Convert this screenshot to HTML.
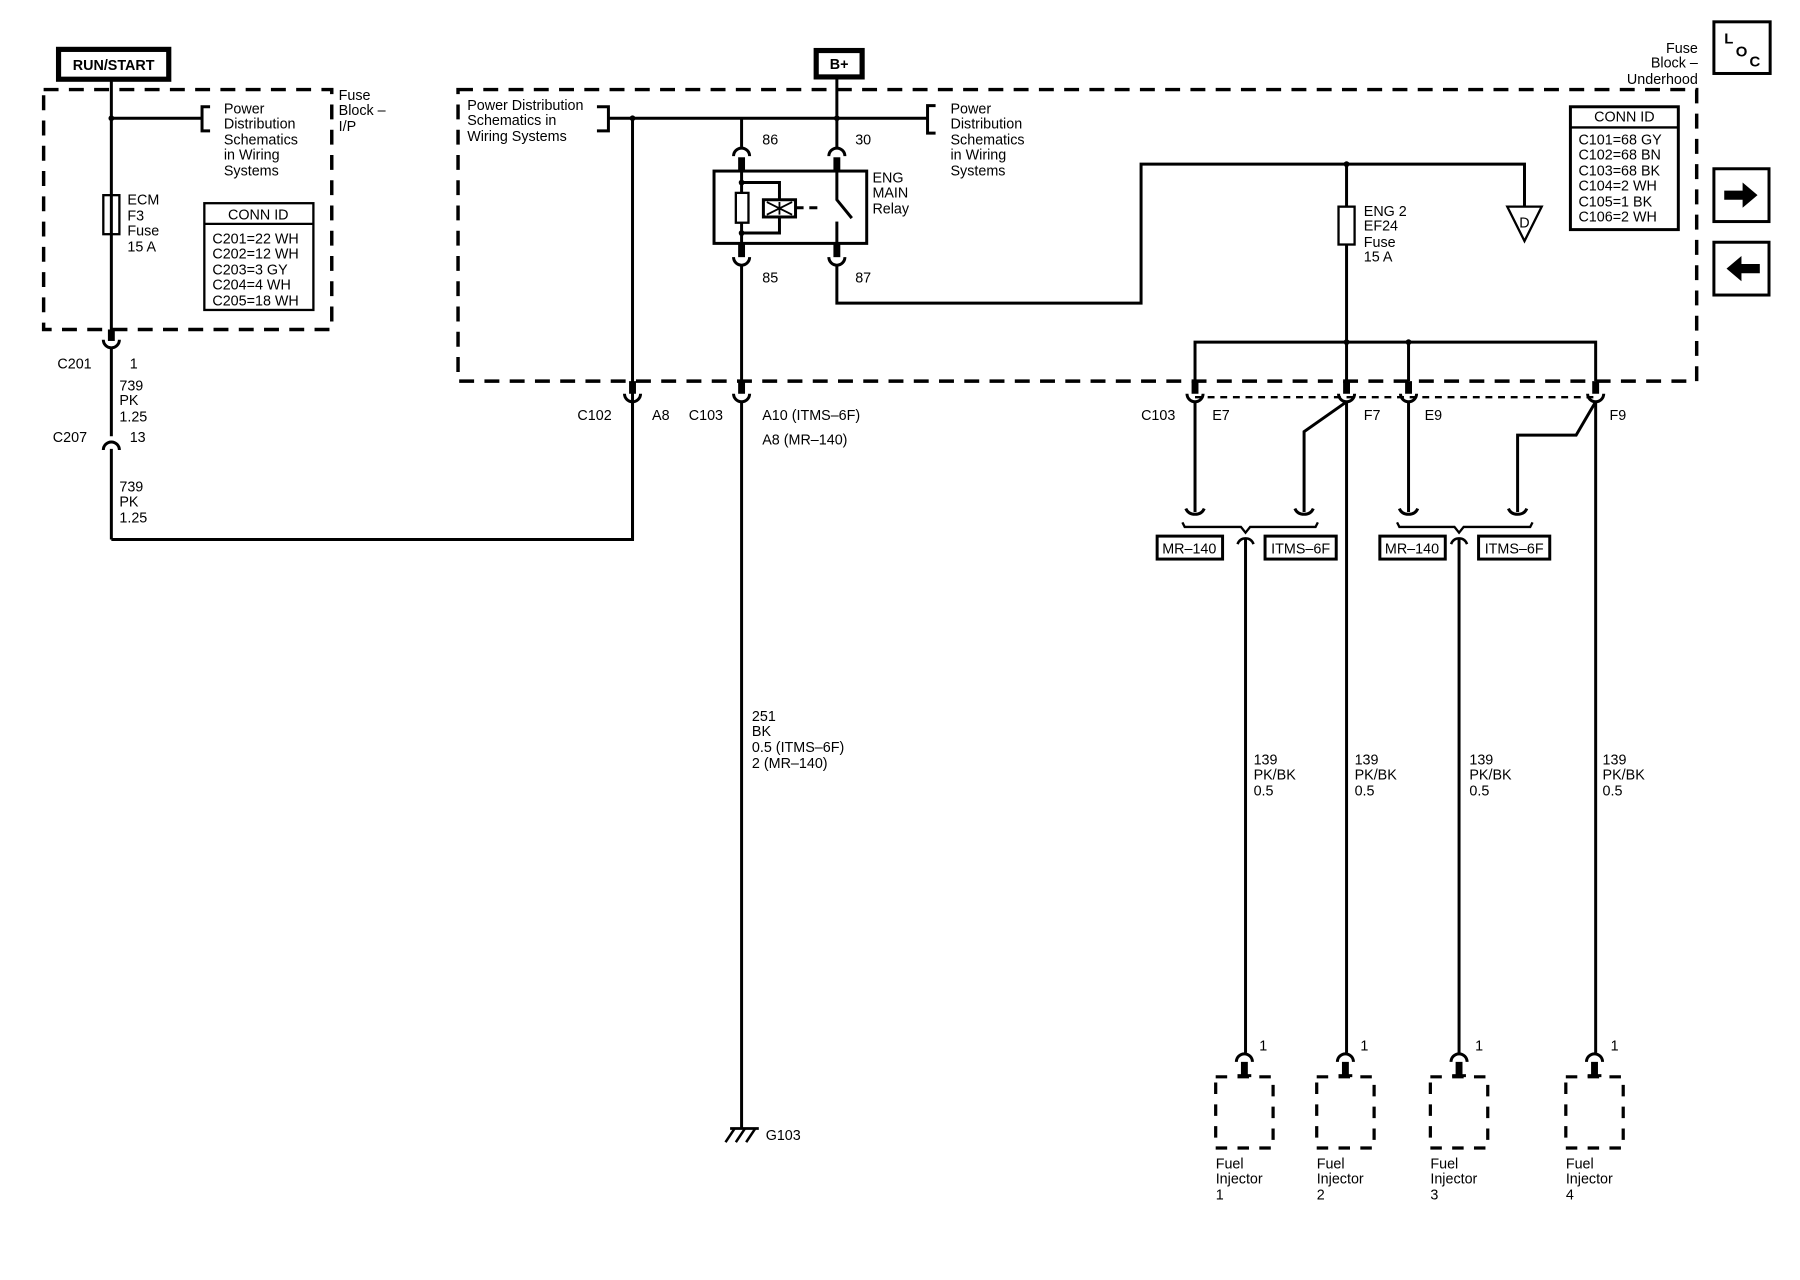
<!DOCTYPE html>
<html><head><meta charset="utf-8"><style>
html,body{margin:0;padding:0;background:#fff;}
svg{display:block;}
text{font-family:"Liberation Sans",sans-serif;font-size:12.5px;fill:#000;}
</style></head><body>
<svg width="1800" height="1280" viewBox="0 0 1568 1115" xmlns="http://www.w3.org/2000/svg">
<rect x="0" y="0" width="1568" height="1115" fill="#fff"/>
<g fill="none" stroke="#000" stroke-width="2.6">
<rect x="38" y="78" width="251" height="209" stroke-width="3" stroke-dasharray="13,9"/>
<rect x="399" y="78" width="1079" height="254" stroke-width="3" stroke-dasharray="13,9"/>
<rect x="51" y="43" width="96" height="26" stroke-width="4.5"/>
<rect x="711" y="44" width="40" height="23" stroke-width="4.5"/>
<line x1="97" y1="69" x2="97" y2="287"/>
<line x1="97" y1="103" x2="176" y2="103"/>
<path d="M183,93 H176 V114 H183"/>
<rect x="90" y="170" width="14" height="34" stroke-width="2"/>
<rect x="178" y="177" width="95" height="93" stroke-width="2"/>
<line x1="178" y1="195" x2="273" y2="195" stroke-width="2"/>
<line x1="97" y1="287" x2="97" y2="297" stroke-width="6"/>
<path d="M90,296 A7,7 0 0 0 104,296"/>
<line x1="97" y1="303" x2="97" y2="380"/>
<path d="M90,392 A7,7 0 0 1 104,392"/>
<line x1="97" y1="391" x2="97" y2="470"/>
<path d="M97,470 H551 V103"/>
<line x1="530" y1="103" x2="729" y2="103" />
<path d="M520,93 H530 V114 H520"/>
<line x1="646" y1="103" x2="646" y2="128"/>
<path d="M639,136 A7,7 0 0 1 653,136"/>
<path d="M722,136 A7,7 0 0 1 736,136"/>
<line x1="729" y1="67" x2="729" y2="128"/>
<line x1="729" y1="103" x2="808" y2="103"/>
<path d="M815,92 H808 V116 H815"/>
<line x1="646" y1="137" x2="646" y2="149" stroke-width="6"/>
<line x1="729" y1="137" x2="729" y2="149" stroke-width="6"/>
<rect x="622" y="149" width="133" height="63" stroke-width="2.6"/>
<line x1="646" y1="149" x2="646" y2="212"/>
<path d="M646,159 H679 V203 H646"/>
<rect x="641" y="168" width="11" height="26" fill="#fff" stroke-width="2"/>
<rect x="665" y="174" width="28" height="15" fill="#fff" stroke-width="2.6"/>
<path d="M668,176 L690,187 M668,187 L690,176 M679,176 V187" stroke-width="1.6"/>
<line x1="693" y1="181" x2="717" y2="181" stroke-dasharray="7,5"/>
<path d="M729,149 V174 L742,190"/>
<line x1="729" y1="193" x2="729" y2="212"/>
<line x1="646" y1="212" x2="646" y2="224" stroke-width="6"/>
<line x1="729" y1="212" x2="729" y2="224" stroke-width="6"/>
<path d="M639,224 A7,7 0 0 0 653,224"/>
<path d="M722,224 A7,7 0 0 0 736,224"/>
<line x1="646" y1="231" x2="646" y2="332"/>
<path d="M729,231 V264 H994 V143 H1328 V180"/>
<polygon points="1313,180 1343,180 1328,210" stroke-width="2"/>
<line x1="1173" y1="143" x2="1173" y2="332"/>
<rect x="1166" y="180" width="14" height="33" fill="#fff" stroke-width="2"/>
<path d="M1041,332 V298 H1390 V332"/>
<line x1="1227" y1="298" x2="1227" y2="332"/>
<line x1="551" y1="332" x2="551" y2="343" stroke-width="6"/>
<path d="M544,343 A7,7 0 0 0 558,343"/>
<line x1="551" y1="350" x2="551" y2="470"/>
<line x1="646" y1="332" x2="646" y2="343" stroke-width="6"/>
<path d="M639,343 A7,7 0 0 0 653,343"/>
<line x1="646" y1="350" x2="646" y2="983"/>
<line x1="636" y1="983" x2="661" y2="983" stroke-width="2.4"/>
<path d="M640,983 L632,995 M649,983 L641,995 M658,983 L650,995" stroke-width="2.2"/>
<line x1="1041" y1="346" x2="1390" y2="346" stroke-width="2" stroke-dasharray="6,5"/>
<line x1="1041" y1="332" x2="1041" y2="343" stroke-width="6"/>
<line x1="1173" y1="332" x2="1173" y2="343" stroke-width="6"/>
<line x1="1227" y1="332" x2="1227" y2="343" stroke-width="6"/>
<line x1="1390" y1="332" x2="1390" y2="343" stroke-width="6"/>
<path d="M1034,343 A7,7 0 0 0 1048,343"/>
<path d="M1166,343 A7,7 0 0 0 1180,343"/>
<path d="M1220,343 A7,7 0 0 0 1234,343"/>
<path d="M1383,343 A7,7 0 0 0 1397,343"/>
<line x1="1041" y1="350" x2="1041" y2="446"/>
<path d="M1173,350 L1136,376 V446"/>
<line x1="1173" y1="350" x2="1173" y2="917"/>
<line x1="1227" y1="350" x2="1227" y2="446"/>
<path d="M1390,350 L1373,379 H1322 V446"/>
<line x1="1390" y1="350" x2="1390" y2="917"/>
<path d="M1033,443 Q1035,448 1041,448 Q1047,448 1049,443"/>
<path d="M1128,443 Q1130,448 1136,448 Q1142,448 1144,443"/>
<path d="M1219,443 Q1221,448 1227,448 Q1233,448 1235,443"/>
<path d="M1314,443 Q1316,448 1322,448 Q1328,448 1330,443"/>
<path d="M1030,455 L1032,459 H1081 L1085,464 L1089,459 H1146 L1148,455" stroke-width="2"/>
<path d="M1217,455 L1219,459 H1267 L1271,464 L1275,459 H1333 L1335,455" stroke-width="2"/>
<rect x="1008" y="467" width="57" height="20" stroke-width="2.6"/>
<rect x="1102" y="467" width="62" height="20" stroke-width="2.6"/>
<rect x="1202" y="467" width="57" height="20" stroke-width="2.6"/>
<rect x="1288" y="467" width="62" height="20" stroke-width="2.6"/>
<path d="M1078,474 Q1080,469 1085,469 Q1090,469 1092,474" stroke-width="2.2"/>
<path d="M1264,474 Q1266,469 1271,469 Q1276,469 1278,474" stroke-width="2.2"/>
<line x1="1085" y1="469" x2="1085" y2="917"/>
<line x1="1271" y1="469" x2="1271" y2="917"/>
<g id="inj">
<path d="M1077,925 A7,7 0 0 1 1091,925" stroke-width="2.6"/>
<line x1="1084" y1="925" x2="1084" y2="937" stroke-width="6"/>
<line x1="1078" y1="937" x2="1090" y2="937" stroke-width="2.6"/>
<rect x="1059" y="938" width="50" height="62" stroke-width="2.8" stroke-dasharray="10,9"/>
</g>
<use href="#inj" x="88"/>
<use href="#inj" x="187"/>
<use href="#inj" x="305"/>
<rect x="1368" y="93" width="94" height="107" stroke-width="2.6"/>
<line x1="1368" y1="111" x2="1462" y2="111" stroke-width="2"/>
<rect x="1493" y="19" width="49" height="45" stroke-width="2.6"/>
<rect x="1493" y="147" width="48" height="46" stroke-width="2.6"/>
<rect x="1493" y="211" width="48" height="46" stroke-width="2.6"/>
</g>
<g fill="#000">
<circle cx="97" cy="103" r="2.5"/><circle cx="551" cy="103" r="2.5"/><circle cx="729" cy="103" r="2.5"/>
<circle cx="646" cy="159" r="2.5"/><circle cx="646" cy="203" r="2.5"/>
<circle cx="1173" cy="143" r="2.5"/><circle cx="1173" cy="298" r="2.5"/><circle cx="1227" cy="298" r="2.5"/>
<polygon points="1502,166 1518,166 1518,159 1531,170 1518,181 1518,174 1502,174"/>
<polygon points="1533,230 1517,230 1517,223 1504,234 1517,245 1517,238 1533,238"/>
</g>
<text x="99" y="61" text-anchor="middle" font-weight="bold">RUN/START</text>
<text x="731" y="60" text-anchor="middle" font-weight="bold">B+</text>
<text x="195" y="99">Power</text><text x="195" y="112">Distribution</text><text x="195" y="126">Schematics</text><text x="195" y="139">in Wiring</text><text x="195" y="153">Systems</text>
<text x="295" y="87">Fuse</text><text x="295" y="100">Block –</text><text x="295" y="114">I/P</text>
<text x="111" y="178">ECM</text><text x="111" y="192">F3</text><text x="111" y="205">Fuse</text><text x="111" y="219">15 A</text>
<text x="225" y="191" text-anchor="middle">CONN ID</text>
<text x="185" y="212">C201=22 WH</text><text x="185" y="225">C202=12 WH</text><text x="185" y="239">C203=3 GY</text><text x="185" y="252">C204=4 WH</text><text x="185" y="266">C205=18 WH</text>
<text x="50" y="321">C201</text><text x="113" y="321">1</text>
<text x="104" y="340">739</text><text x="104" y="353">PK</text><text x="104" y="367">1.25</text>
<text x="46" y="385">C207</text><text x="113" y="385">13</text>
<text x="104" y="428">739</text><text x="104" y="441">PK</text><text x="104" y="455">1.25</text>
<text x="407" y="96">Power Distribution</text><text x="407" y="109">Schematics in</text><text x="407" y="123">Wiring Systems</text>
<text x="664" y="126">86</text><text x="745" y="126">30</text><text x="664" y="246">85</text><text x="745" y="246">87</text>
<text x="828" y="99">Power</text><text x="828" y="112">Distribution</text><text x="828" y="126">Schematics</text><text x="828" y="139">in Wiring</text><text x="828" y="153">Systems</text>
<text x="760" y="159">ENG</text><text x="760" y="172">MAIN</text><text x="760" y="186">Relay</text>
<text x="1188" y="188">ENG 2</text><text x="1188" y="201">EF24</text><text x="1188" y="215">Fuse</text><text x="1188" y="228">15 A</text>
<text x="1328" y="198" text-anchor="middle">D</text>
<text x="503" y="366">C102</text><text x="568" y="366">A8</text><text x="600" y="366">C103</text>
<text x="664" y="366">A10 (ITMS–6F)</text><text x="664" y="387">A8 (MR–140)</text>
<text x="994" y="366">C103</text><text x="1056" y="366">E7</text><text x="1188" y="366">F7</text><text x="1241" y="366">E9</text><text x="1402" y="366">F9</text>
<text x="1036" y="482" text-anchor="middle">MR–140</text><text x="1133" y="482" text-anchor="middle">ITMS–6F</text>
<text x="1230" y="482" text-anchor="middle">MR–140</text><text x="1319" y="482" text-anchor="middle">ITMS–6F</text>
<text x="655" y="628">251</text><text x="655" y="641">BK</text><text x="655" y="655">0.5 (ITMS–6F)</text><text x="655" y="669">2 (MR–140)</text>
<text x="667" y="993">G103</text>
<text x="1092" y="666">139</text><text x="1092" y="679">PK/BK</text><text x="1092" y="693">0.5</text>
<text x="1180" y="666">139</text><text x="1180" y="679">PK/BK</text><text x="1180" y="693">0.5</text>
<text x="1280" y="666">139</text><text x="1280" y="679">PK/BK</text><text x="1280" y="693">0.5</text>
<text x="1396" y="666">139</text><text x="1396" y="679">PK/BK</text><text x="1396" y="693">0.5</text>
<text x="1097" y="915">1</text><text x="1185" y="915">1</text><text x="1285" y="915">1</text><text x="1403" y="915">1</text>
<text x="1059" y="1018">Fuel</text><text x="1059" y="1031">Injector</text><text x="1059" y="1045">1</text>
<text x="1147" y="1018">Fuel</text><text x="1147" y="1031">Injector</text><text x="1147" y="1045">2</text>
<text x="1246" y="1018">Fuel</text><text x="1246" y="1031">Injector</text><text x="1246" y="1045">3</text>
<text x="1364" y="1018">Fuel</text><text x="1364" y="1031">Injector</text><text x="1364" y="1045">4</text>
<text x="1415" y="106" text-anchor="middle">CONN ID</text>
<text x="1375" y="126">C101=68 GY</text><text x="1375" y="139">C102=68 BN</text><text x="1375" y="153">C103=68 BK</text><text x="1375" y="166">C104=2 WH</text><text x="1375" y="180">C105=1 BK</text><text x="1375" y="193">C106=2 WH</text>
<text x="1479" y="46" text-anchor="end">Fuse</text><text x="1479" y="59" text-anchor="end">Block –</text><text x="1479" y="73" text-anchor="end">Underhood</text>
<text x="1502" y="38" style="font-size:13px;font-weight:bold">L</text><text x="1512" y="49" style="font-size:13px;font-weight:bold">O</text><text x="1524" y="58" style="font-size:13px;font-weight:bold">C</text>
</svg>
</body></html>
